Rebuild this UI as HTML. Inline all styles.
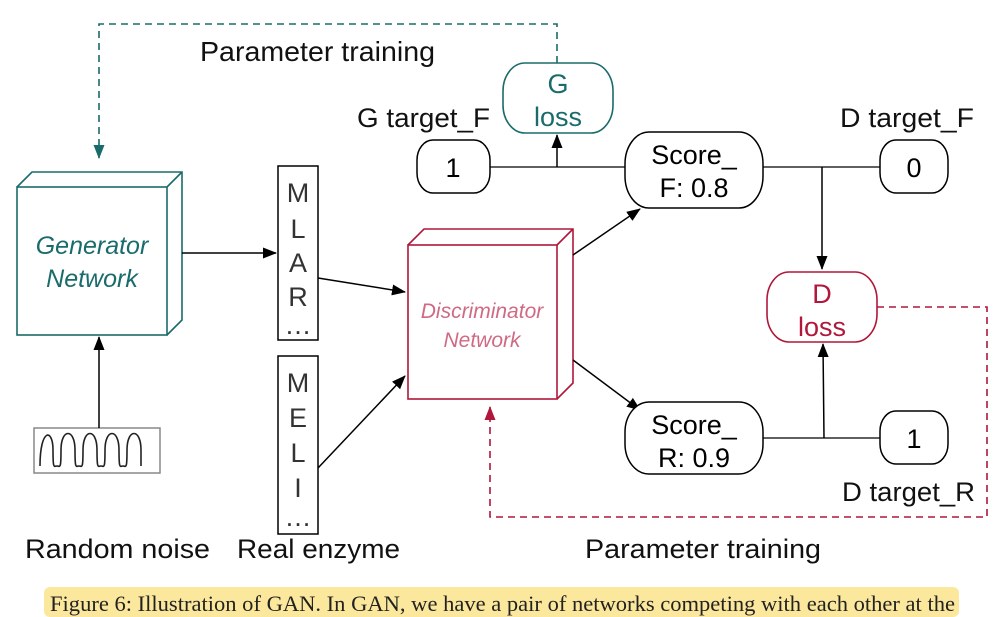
<!DOCTYPE html>
<html><head><meta charset="utf-8"><style>
html,body{margin:0;padding:0;background:#fff;}
svg{display:block;}
text{font-family:"Liberation Sans",sans-serif;}
</style></head><body>
<svg width="999" height="617" viewBox="0 0 999 617" xmlns="http://www.w3.org/2000/svg">
<defs>
<marker id="ab" markerWidth="14" markerHeight="14" refX="13" refY="7" orient="auto" markerUnits="userSpaceOnUse"><path d="M0,1.5 L14,7 L0,12.5 z" fill="#000"/></marker>
<marker id="at" markerWidth="14" markerHeight="14" refX="13" refY="7" orient="auto" markerUnits="userSpaceOnUse"><path d="M0,1.5 L14,7 L0,12.5 z" fill="#1a6b6b"/></marker>
<marker id="ar" markerWidth="14" markerHeight="14" refX="13" refY="7" orient="auto" markerUnits="userSpaceOnUse"><path d="M0,1.5 L14,7 L0,12.5 z" fill="#b0173a"/></marker>
</defs>

<polyline points="557,63 557,24 99,24 99,158" fill="none" stroke="#1a6b6b" stroke-width="1.6" stroke-dasharray="7,5" marker-end="url(#at)"/>
<text x="200" y="61" font-size="28" fill="#111" textLength="235" lengthAdjust="spacingAndGlyphs">Parameter training</text>

<path d="M17,187 L32,172 L182,172 L182,320 L167,335 M167,187 L182,172" fill="none" stroke="#1a6b6b" stroke-width="1.6"/>
<rect x="17" y="187" width="150" height="148" fill="#fff" stroke="#1a6b6b" stroke-width="1.6"/>
<text x="92" y="254" font-size="25" font-style="italic" fill="#1a6b6b" text-anchor="middle">Generator</text>
<text x="92" y="287" font-size="25" font-style="italic" fill="#1a6b6b" text-anchor="middle">Network</text>

<rect x="34" y="428" width="126" height="45" fill="#fff" stroke="#888" stroke-width="1.5"/>
<path d="M40,466 C40,428 53,428 53,450 C53,470 54,466 57,466 C60,466 61,470 61,450 C61,428 75,428 75,450 C75,470 76,466 79,466 C82,466 83,470 83,450 C83,428 97,428 97,450 C97,470 98,466 101,466 C104,466 105,470 105,450 C105,428 119,428 119,450 C119,470 120,466 123,466 C126,466 127,470 127,450 C127,428 141,428 141,450 L141,466" fill="none" stroke="#222" stroke-width="1.6"/>
<line x1="99" y1="428" x2="99" y2="337" stroke="#000" stroke-width="1.5" marker-end="url(#ab)"/>

<line x1="182" y1="253" x2="276" y2="253" stroke="#000" stroke-width="1.5" marker-end="url(#ab)"/>

<rect x="278" y="166" width="40" height="174" fill="#fff" stroke="#000" stroke-width="1.5"/>
<g font-size="27" fill="#333" text-anchor="middle">
<text x="298" y="202">M</text><text x="298" y="238">L</text><text x="298" y="272">A</text><text x="298" y="306">R</text><text x="298" y="334">…</text>
<text x="298" y="392">M</text><text x="298" y="427">E</text><text x="298" y="462">L</text><text x="298" y="497">I</text><text x="298" y="526">…</text>
</g>
<rect x="278" y="356" width="40" height="178" fill="none" stroke="#000" stroke-width="1.5"/>

<line x1="318" y1="278" x2="405" y2="292" stroke="#000" stroke-width="1.5" marker-end="url(#ab)"/>
<line x1="318" y1="468" x2="405" y2="376" stroke="#000" stroke-width="1.5" marker-end="url(#ab)"/>

<path d="M408,245 L424,229 L573,229 L573,383 L557,399 M557,245 L573,229" fill="none" stroke="#b0173a" stroke-width="1.6"/>
<rect x="408" y="245" width="149" height="154" fill="#fff" stroke="#b0173a" stroke-width="1.6"/>
<text x="482" y="318" font-size="21" font-style="italic" fill="#d06a84" text-anchor="middle">Discriminator</text>
<text x="482" y="347" font-size="21" font-style="italic" fill="#d06a84" text-anchor="middle">Network</text>

<line x1="573" y1="255" x2="640" y2="209" stroke="#000" stroke-width="1.5" marker-end="url(#ab)"/>
<line x1="573" y1="360" x2="640" y2="410" stroke="#000" stroke-width="1.5" marker-end="url(#ab)"/>

<rect x="503" y="63" width="110" height="70" rx="22" ry="28" fill="#fff" stroke="#1a6b6b" stroke-width="1.6"/>
<text x="558" y="93" font-size="27" fill="#1a6b6b" text-anchor="middle">G</text>
<text x="558" y="126" font-size="27" fill="#1a6b6b" text-anchor="middle">loss</text>
<text x="357" y="127" font-size="27" fill="#111" textLength="133" lengthAdjust="spacingAndGlyphs">G target_F</text>

<rect x="417" y="140" width="73" height="53" rx="16" ry="20" fill="#fff" stroke="#000" stroke-width="1.5"/>
<text x="453" y="177" font-size="27" text-anchor="middle">1</text>
<line x1="490" y1="167" x2="625" y2="167" stroke="#000" stroke-width="1.3"/>
<line x1="557" y1="167" x2="557" y2="135" stroke="#000" stroke-width="1.5" marker-end="url(#ab)"/>

<rect x="625" y="132" width="138" height="76" rx="24" ry="32" fill="#fff" stroke="#000" stroke-width="1.5"/>
<text x="694" y="164" font-size="27" text-anchor="middle">Score_</text>
<text x="694" y="197" font-size="27" text-anchor="middle">F: 0.8</text>
<line x1="763" y1="167" x2="880" y2="167" stroke="#000" stroke-width="1.3"/>
<line x1="822" y1="167" x2="822" y2="269" stroke="#000" stroke-width="1.5" marker-end="url(#ab)"/>

<text x="840" y="127" font-size="27" fill="#111" textLength="134" lengthAdjust="spacingAndGlyphs">D target_F</text>
<rect x="880" y="140" width="68" height="53" rx="16" ry="20" fill="#fff" stroke="#000" stroke-width="1.5"/>
<text x="914" y="177" font-size="27" text-anchor="middle">0</text>

<rect x="767" y="272" width="110" height="70" rx="22" ry="28" fill="#fff" stroke="#b0173a" stroke-width="1.6"/>
<text x="822" y="303" font-size="27" fill="#b0173a" text-anchor="middle">D</text>
<text x="822" y="336" font-size="27" fill="#b0173a" text-anchor="middle">loss</text>

<rect x="625" y="402" width="138" height="72" rx="24" ry="30" fill="#fff" stroke="#000" stroke-width="1.5"/>
<text x="694" y="434" font-size="27" text-anchor="middle">Score_</text>
<text x="694" y="467" font-size="27" text-anchor="middle">R: 0.9</text>
<line x1="763" y1="438" x2="880" y2="438" stroke="#000" stroke-width="1.3"/>
<line x1="824" y1="438" x2="823" y2="344" stroke="#000" stroke-width="1.5" marker-end="url(#ab)"/>
<rect x="880" y="411" width="68" height="53" rx="16" ry="20" fill="#fff" stroke="#000" stroke-width="1.5"/>
<text x="914" y="448" font-size="27" text-anchor="middle">1</text>
<text x="842" y="501" font-size="27" fill="#111" textLength="133" lengthAdjust="spacingAndGlyphs">D target_R</text>

<polyline points="877,307 987,307 987,517 490,517 490,407" fill="none" stroke="#b0173a" stroke-width="1.6" stroke-dasharray="7,5" marker-end="url(#ar)"/>
<text x="585" y="558" font-size="27" fill="#111" textLength="236" lengthAdjust="spacingAndGlyphs">Parameter training</text>

<text x="25" y="558" font-size="27" fill="#111" textLength="185" lengthAdjust="spacingAndGlyphs">Random noise</text>
<text x="237" y="558" font-size="27" fill="#111" textLength="163" lengthAdjust="spacingAndGlyphs">Real enzyme</text>

<rect x="44" y="587" width="915" height="30" rx="6" fill="#fbe89c"/>
<text x="50" y="611" font-size="22" fill="#222" style="font-family:'Liberation Serif',serif" textLength="905" lengthAdjust="spacingAndGlyphs">Figure 6: Illustration of GAN. In GAN, we have a pair of networks competing with each other at the</text>
</svg>
</body></html>
